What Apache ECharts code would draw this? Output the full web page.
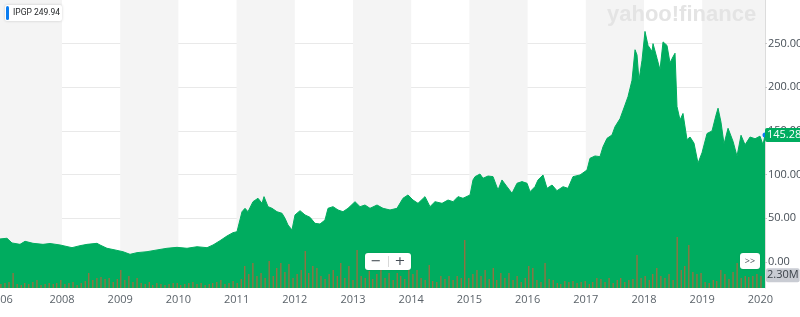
<!DOCTYPE html>
<html><head><meta charset="utf-8">
<script src="https://cdn.jsdelivr.net/npm/echarts@6/dist/echarts.min.js"></script>
<style>html,body{margin:0;padding:0;background:#fff}#c{width:800px;height:317px}</style>
</head><body><div id="c"></div>
<script>
const ticker = 'IPGP';
const hoverValue = '249.94';
const lastPrice = 145.28;
const lastVolumeMark = 2.30;
const xMin = 2006.935, xMax = 2020.079;
const yearLabels = [2006.94, 2008, 2009, 2010, 2011, 2012, 2013, 2014, 2015, 2016, 2017, 2018, 2019, 2020];
const priceTicks = [0, 50, 100, 150, 200, 250];
const bandStarts = [2006.935, 2009, 2011, 2013, 2015, 2017, 2019];
const bandEnds   = [2008, 2010, 2012, 2014, 2016, 2018, 2020.079];

const priceDates = [2006.935,2007.055,2007.141,2007.279,2007.365,2007.502,2007.674,2007.794,2007.966,2008.172,2008.310,2008.430,2008.602,2008.653,2008.773,2008.911,2009.048,2009.169,2009.289,2009.461,2009.633,2009.804,2009.976,2010.148,2010.320,2010.492,2010.595,2010.715,2010.835,2010.938,2011.007,2011.093,2011.145,2011.196,2011.282,2011.368,2011.437,2011.471,2011.540,2011.609,2011.694,2011.780,2011.832,2011.883,2011.952,2012.004,2012.090,2012.176,2012.261,2012.347,2012.433,2012.519,2012.571,2012.657,2012.743,2012.828,2012.914,2013.035,2013.121,2013.206,2013.292,2013.413,2013.516,2013.636,2013.756,2013.859,2013.945,2014.031,2014.117,2014.237,2014.323,2014.409,2014.530,2014.633,2014.719,2014.804,2014.890,2015.011,2015.062,2015.097,2015.182,2015.234,2015.320,2015.406,2015.492,2015.560,2015.646,2015.732,2015.818,2015.904,2015.990,2016.042,2016.127,2016.179,2016.265,2016.334,2016.420,2016.505,2016.609,2016.694,2016.780,2016.901,2017.021,2017.072,2017.158,2017.244,2017.296,2017.365,2017.450,2017.502,2017.588,2017.674,2017.725,2017.794,2017.846,2017.880,2017.914,2017.966,2018.017,2018.069,2018.138,2018.155,2018.224,2018.275,2018.327,2018.395,2018.447,2018.499,2018.533,2018.567,2018.619,2018.670,2018.739,2018.791,2018.859,2018.928,2018.997,2019.083,2019.169,2019.237,2019.272,2019.323,2019.375,2019.444,2019.530,2019.598,2019.667,2019.736,2019.822,2019.908,2019.993,2020.045,2020.079];
const priceValues = [26.2,27.0,21.6,20.0,23.5,21.2,20.0,21.0,19.3,16.2,18.5,20.0,21.2,19.3,15.5,13.6,11.6,8.6,10.5,11.6,13.6,15.5,16.6,15.5,17.3,16.2,19.3,24.2,29.6,33.4,34.5,57.4,61.3,57.4,68.9,72.8,67.0,74.7,63.2,61.3,57.4,55.6,49.9,42.2,36.5,53.7,58.6,53.7,51.0,44.1,43.3,47.9,61.3,63.2,59.4,57.4,61.3,68.9,63.2,65.1,61.3,65.1,61.3,59.4,61.3,72.8,76.6,70.8,67.0,74.7,63.2,68.9,67.0,70.8,68.9,74.7,72.8,76.6,93.8,97.6,100.6,95.7,98.3,97.6,82.3,93.8,86.1,78.5,90.0,91.9,90.0,80.4,86.1,93.8,99.5,84.2,88.0,81.5,86.1,84.2,97.6,99.5,105.2,118.6,121.3,120.5,131.9,141.5,145.3,154.8,164.0,179.7,189.2,208.0,243.0,237.0,208.0,231.0,264.0,248.0,241.0,250.0,233.0,220.0,252.0,248.0,228.0,235.0,239.0,178.0,162.5,170.0,140.0,143.0,136.0,113.0,125.0,147.0,150.0,168.0,176.0,160.0,135.0,153.0,138.0,121.0,145.0,134.0,143.0,141.0,144.0,134.0,145.28];

const volDates = [2006.95,2007.02,2007.09,2007.16,2007.23,2007.30,2007.36,2007.43,2007.50,2007.57,2007.64,2007.71,2007.78,2007.85,2007.91,2007.98,2008.05,2008.12,2008.19,2008.26,2008.33,2008.40,2008.46,2008.53,2008.60,2008.67,2008.74,2008.81,2008.88,2008.95,2009.01,2009.08,2009.15,2009.22,2009.29,2009.36,2009.43,2009.50,2009.56,2009.63,2009.70,2009.77,2009.84,2009.91,2009.98,2010.04,2010.11,2010.18,2010.25,2010.32,2010.39,2010.46,2010.53,2010.59,2010.66,2010.73,2010.80,2010.87,2010.94,2011.01,2011.08,2011.14,2011.21,2011.28,2011.35,2011.42,2011.49,2011.56,2011.63,2011.69,2011.76,2011.83,2011.90,2011.97,2012.04,2012.11,2012.18,2012.24,2012.31,2012.38,2012.45,2012.52,2012.59,2012.66,2012.73,2012.79,2012.86,2012.93,2013.00,2013.07,2013.14,2013.21,2013.28,2013.34,2013.41,2013.48,2013.55,2013.62,2013.69,2013.76,2013.82,2013.89,2013.96,2014.03,2014.10,2014.17,2014.24,2014.31,2014.37,2014.44,2014.51,2014.58,2014.65,2014.72,2014.79,2014.86,2014.92,2014.99,2015.06,2015.13,2015.20,2015.27,2015.34,2015.41,2015.47,2015.54,2015.61,2015.68,2015.75,2015.82,2015.89,2015.96,2016.02,2016.09,2016.16,2016.23,2016.30,2016.37,2016.44,2016.51,2016.57,2016.64,2016.71,2016.78,2016.85,2016.92,2016.99,2017.06,2017.12,2017.19,2017.26,2017.33,2017.40,2017.47,2017.54,2017.60,2017.67,2017.74,2017.81,2017.88,2017.95,2018.02,2018.09,2018.15,2018.22,2018.29,2018.36,2018.43,2018.50,2018.57,2018.64,2018.70,2018.77,2018.84,2018.91,2018.98,2019.05,2019.12,2019.19,2019.25,2019.32,2019.39,2019.46,2019.53,2019.60,2019.67,2019.74,2019.80,2019.87,2019.94,2020.01];
const volValues = [0.72,0.90,1.08,2.70,0.72,0.54,0.90,0.72,1.08,1.44,0.54,0.72,0.90,0.72,0.90,1.44,0.72,0.90,1.08,0.54,0.90,1.26,2.70,1.44,1.80,1.98,1.62,1.80,1.08,1.62,3.24,1.44,2.16,1.08,1.80,0.90,0.72,1.08,0.54,0.90,0.72,0.54,0.72,0.90,0.90,0.54,0.72,0.90,1.08,0.72,0.90,0.54,0.72,0.90,1.08,1.44,0.72,0.90,1.26,0.90,1.62,3.96,2.52,4.50,2.16,2.70,1.80,4.86,2.16,3.60,4.50,2.88,4.32,1.80,2.52,3.24,6.66,2.70,3.96,3.60,2.16,1.62,2.52,3.24,2.16,4.50,1.80,3.96,1.44,6.84,2.16,1.80,3.06,1.62,2.52,3.96,1.80,2.70,1.44,2.70,2.16,1.62,3.24,2.52,3.24,1.80,1.44,4.14,1.26,1.08,2.16,1.62,2.16,1.44,2.16,1.80,8.64,1.80,2.52,3.24,2.16,3.24,1.62,3.60,1.44,2.70,1.80,2.70,1.44,2.16,1.08,1.80,3.96,3.60,1.44,1.08,4.50,1.62,1.44,0.90,0.72,1.26,1.08,1.26,0.90,1.08,1.26,0.72,1.08,1.80,1.62,1.08,1.80,0.90,1.44,1.80,1.08,1.44,1.62,5.94,1.80,2.16,1.44,2.52,3.60,2.16,1.80,2.52,1.44,9.18,3.24,3.96,7.74,2.88,2.52,2.70,1.08,0.90,1.44,1.26,3.24,2.52,1.62,2.88,4.50,1.80,2.16,1.98,2.16,2.52,2.16];

const GREEN = '#00ac5f';
const FONT = '"Open Sans", sans-serif';
const pricePairs = priceDates.map((d, i) => [d, priceValues[i]]);
const volPairs = volDates.map((d, i) => [d, volValues[i]]);
const bands = bandStarts.map((s, i) => [{ xAxis: s }, { xAxis: bandEnds[i] }]);
const Z = 20;

const chart = echarts.init(document.getElementById('c'), null, { renderer: 'canvas' });
chart.setOption({
  animation: false,
  backgroundColor: '#fff',
  grid: { left: 0, right: 35, top: 0, bottom: 29, containLabel: false, outerBoundsMode: 'none' },
  xAxis: {
    type: 'value', min: xMin, max: xMax, z: 1,
    axisLine: { show: true, lineStyle: { color: '#dcdcdc' } },
    axisTick: { show: true, length: 4, lineStyle: { color: '#c8c8c8' }, customValues: yearLabels.slice(1) },
    axisLabel: { customValues: yearLabels, color: '#5b636a', fontSize: 11, fontFamily: FONT, margin: 6,
      hideOverlap: false, formatter: v => v < 2007 ? '2006' : String(Math.round(v)) },
    splitLine: { show: false }
  },
  yAxis: [{
    type: 'value', position: 'right', min: -30, max: 300, z: 1,
    axisLine: { show: true, lineStyle: { color: '#dcdcdc' } },
    axisTick: { show: true, length: 2, lineStyle: { color: '#c8c8c8' }, customValues: priceTicks },
    axisLabel: { customValues: priceTicks, color: '#464e56', fontSize: 11, fontFamily: FONT, margin: 3,
      formatter: v => v.toFixed(2) },
    splitLine: { show: true, lineStyle: { color: '#e9e9e9' } }
  }, {
    type: 'value', min: 0, max: 51.84, show: false, splitLine: { show: false }
  }],
  series: [{
    type: 'line', z: 0, silent: true, data: [[xMin, 0]], showSymbol: false,
    lineStyle: { width: 0, color: 'rgba(0,0,0,0)' },
    markArea: { silent: true, itemStyle: { color: '#f4f4f4' }, data: bands }
  }, {
    type: 'line', z: 2, data: pricePairs, showSymbol: false, symbol: 'none',
    lineStyle: { color: GREEN, width: 1 },
    areaStyle: { color: GREEN, opacity: 1, origin: 'start' },
    markLine: {
      silent: true, symbol: 'none', lineStyle: { width: 0, color: 'rgba(0,0,0,0)' },
      label: { position: 'end', distance: 0, formatter: () => lastPrice.toFixed(2), color: '#fff',
        backgroundColor: GREEN, padding: [2, 2, 1, 2], borderRadius: 2, fontSize: 11, fontFamily: FONT },
      data: [{ yAxis: lastPrice }]
    },
    markPoint: {
      silent: true, symbol: 'circle', symbolSize: 5, itemStyle: { color: '#0a7cf0' }, label: { show: false },
      data: [{ coord: [priceDates[priceDates.length - 1], lastPrice] }]
    }
  }, {
    type: 'bar', z: 3, yAxisIndex: 1, data: volPairs, barWidth: 1.3,
    itemStyle: { color: 'rgba(186,98,58,0.85)' },
    markLine: {
      silent: true, symbol: 'none', lineStyle: { width: 0, color: 'rgba(0,0,0,0)' },
      label: { position: 'end', distance: 1, formatter: () => lastVolumeMark.toFixed(2) + 'M', color: '#3b4249',
        backgroundColor: '#c9ccd3', padding: [2, 1, 1, 1], borderRadius: 2, fontSize: 11, fontFamily: FONT },
      data: [{ yAxis: lastVolumeMark }]
    }
  }],
  graphic: [
    { type: 'text', left: 607, top: 4, z: Z, silent: true,
      style: { text: 'yahoo!finance', font: '900 22px "Liberation Sans", sans-serif', fill: '#e4e4e4' } },
    { type: 'group', left: 5, top: 5, z: Z, children: [
      { type: 'rect', z: Z, shape: { x: 0, y: 0, width: 57, height: 16, r: 2 },
        style: { fill: '#fff', shadowBlur: 3, shadowColor: 'rgba(0,0,0,0.18)' } },
      { type: 'rect', z: Z + 1, shape: { x: 1, y: 1, width: 3, height: 14, r: 1.5 }, style: { fill: '#0a7cf0' } },
      { type: 'text', z: Z + 1, x: 8, y: 8, style: { text: ticker + ' ' + hoverValue, font: '8.5px Roboto, sans-serif',
        fill: '#26282a', verticalAlign: 'middle' } }
    ]},
    { type: 'group', left: 365, top: 253, z: Z, children: [
      { type: 'rect', z: Z, shape: { x: 0, y: 0, width: 46, height: 17, r: 3 },
        style: { fill: '#fff', shadowBlur: 2, shadowColor: 'rgba(0,0,0,0.12)' } },
      { type: 'text', z: Z + 1, x: 11, y: 8.5, style: { text: '−', font: '13px "DejaVu Sans", sans-serif', fill: '#464e56',
        align: 'center', verticalAlign: 'middle' } },
      { type: 'line', z: Z + 1, shape: { x1: 23.5, y1: 3, x2: 23.5, y2: 14 }, style: { stroke: '#d8d8d8', lineWidth: 1 } },
      { type: 'text', z: Z + 1, x: 35, y: 8.5, style: { text: '+', font: '13px "DejaVu Sans", sans-serif', fill: '#464e56',
        align: 'center', verticalAlign: 'middle' } }
    ]},
    { type: 'group', left: 740, top: 253, z: Z, children: [
      { type: 'rect', z: Z, shape: { x: 0, y: 0, width: 20, height: 16, r: 3 },
        style: { fill: '#fff', shadowBlur: 2, shadowColor: 'rgba(0,0,0,0.12)' } },
      { type: 'text', z: Z + 1, x: 10, y: 8, style: { text: '>>', font: '9px "Open Sans", sans-serif', fill: '#464e56',
        align: 'center', verticalAlign: 'middle' } }
    ]}
  ]
});
</script>
</body></html>
